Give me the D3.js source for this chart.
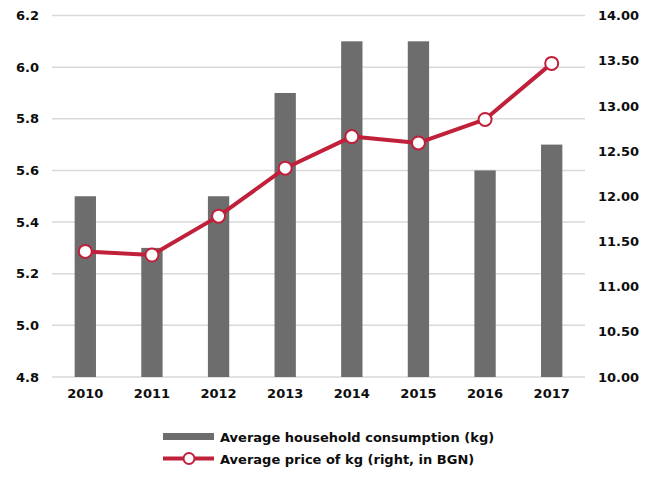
<!DOCTYPE html>
<html>
<head>
<meta charset="utf-8">
<script src="https://cdn.jsdelivr.net/npm/d3@7"></script>
<style>
  body { margin: 0; background: #fff; }
  text { font-family: "DejaVu Sans", Verdana, sans-serif; font-weight: bold; font-size: 13px; fill: #0d0d0d; }
</style>
</head>
<body>
<div id="chart"></div>
<script>
const years = ['2010', '2011', '2012', '2013', '2014', '2015', '2016', '2017'];
const consumption = [5.5, 5.3, 5.5, 5.9, 6.1, 6.1, 5.6, 5.7];
const price = [11.39, 11.35, 11.78, 12.31, 12.66, 12.59, 12.85, 13.47];
const leftTicks = [4.8, 5.0, 5.2, 5.4, 5.6, 5.8, 6.0, 6.2];
const rightTicks = [10, 10.5, 11, 11.5, 12, 12.5, 13, 13.5, 14];
const legendLabels = ['Average household consumption (kg)', 'Average price of kg (right, in BGN)'];

const chartWidth = 657;
const chartHeight = 477;
const plotLeft = 52, plotRight = 585, plotTop = 15.5, plotBottom = 377;
const barColor = '#6d6d6d';
const lineColor = '#c0203a';

const svg = d3.select('#chart')
    .append('svg')
    .attr('width', chartWidth)
    .attr('height', chartHeight);

const xScale = d3.scaleBand()
    .domain(years)
    .range([plotLeft, plotRight])
    .paddingInner(0.68)
    .paddingOuter(0.34);

const yLeft = d3.scaleLinear()
    .domain([4.8, 6.2])
    .range([plotBottom, plotTop]);

const yRight = d3.scaleLinear()
    .domain([10, 14])
    .range([plotBottom, plotTop]);

// gridlines
svg.append('g')
    .selectAll('line')
    .data(leftTicks)
    .enter()
    .append('line')
    .attr('x1', plotLeft)
    .attr('x2', plotRight)
    .attr('y1', d => yLeft(d))
    .attr('y2', d => yLeft(d))
    .attr('stroke', '#d9d9d9')
    .attr('stroke-width', 1.5);

// left axis
const yAxisLeft = d3.axisLeft(yLeft)
    .tickValues(leftTicks)
    .tickFormat(d3.format('.1f'))
    .tickSize(0)
    .tickPadding(13);

svg.append('g')
    .attr('transform', 'translate(' + plotLeft + ',0)')
    .call(yAxisLeft)
    .call(g => g.select('.domain').remove());

// right axis
const yAxisRight = d3.axisRight(yRight)
    .tickValues(rightTicks)
    .tickFormat(d3.format('.2f'))
    .tickSize(0)
    .tickPadding(13);

svg.append('g')
    .attr('transform', 'translate(' + plotRight + ',0)')
    .call(yAxisRight)
    .call(g => g.select('.domain').remove());

// bars
svg.append('g')
    .selectAll('rect')
    .data(consumption)
    .enter()
    .append('rect')
    .attr('x', (d, i) => xScale(years[i]))
    .attr('y', d => yLeft(d))
    .attr('width', xScale.bandwidth())
    .attr('height', d => yLeft(4.8) - yLeft(d))
    .attr('fill', barColor);

// x axis
const xAxis = d3.axisBottom(xScale)
    .tickSize(0)
    .tickPadding(12);

svg.append('g')
    .attr('transform', 'translate(0,' + plotBottom + ')')
    .call(xAxis)
    .call(g => g.select('.domain').remove());

// price line
const cx = i => xScale(years[i]) + xScale.bandwidth() / 2;

const line = d3.line()
    .x((d, i) => cx(i))
    .y(d => yRight(d));

svg.append('path')
    .datum(price)
    .attr('d', line)
    .attr('fill', 'none')
    .attr('stroke', lineColor)
    .attr('stroke-width', 4)
    .attr('stroke-linejoin', 'round');

svg.append('g')
    .selectAll('circle')
    .data(price)
    .enter()
    .append('circle')
    .attr('cx', (d, i) => cx(i))
    .attr('cy', d => yRight(d))
    .attr('r', 6.5)
    .attr('fill', '#fff')
    .attr('stroke', lineColor)
    .attr('stroke-width', 2);

// legend
const legend = svg.append('g');

legend.append('rect')
    .attr('x', 163)
    .attr('y', 433)
    .attr('width', 51)
    .attr('height', 7)
    .attr('fill', barColor);

legend.append('line')
    .attr('x1', 163)
    .attr('x2', 214)
    .attr('y1', 458.5)
    .attr('y2', 458.5)
    .attr('stroke', lineColor)
    .attr('stroke-width', 4);

legend.append('circle')
    .attr('cx', 189)
    .attr('cy', 458.5)
    .attr('r', 5.5)
    .attr('fill', '#fff')
    .attr('stroke', lineColor)
    .attr('stroke-width', 2);

legend.selectAll('text')
    .data(legendLabels)
    .enter()
    .append('text')
    .attr('x', 220)
    .attr('y', (d, i) => 437 + i * 22)
    .attr('dy', '0.35em')
    .text(d => d);
</script>
</body>
</html>
